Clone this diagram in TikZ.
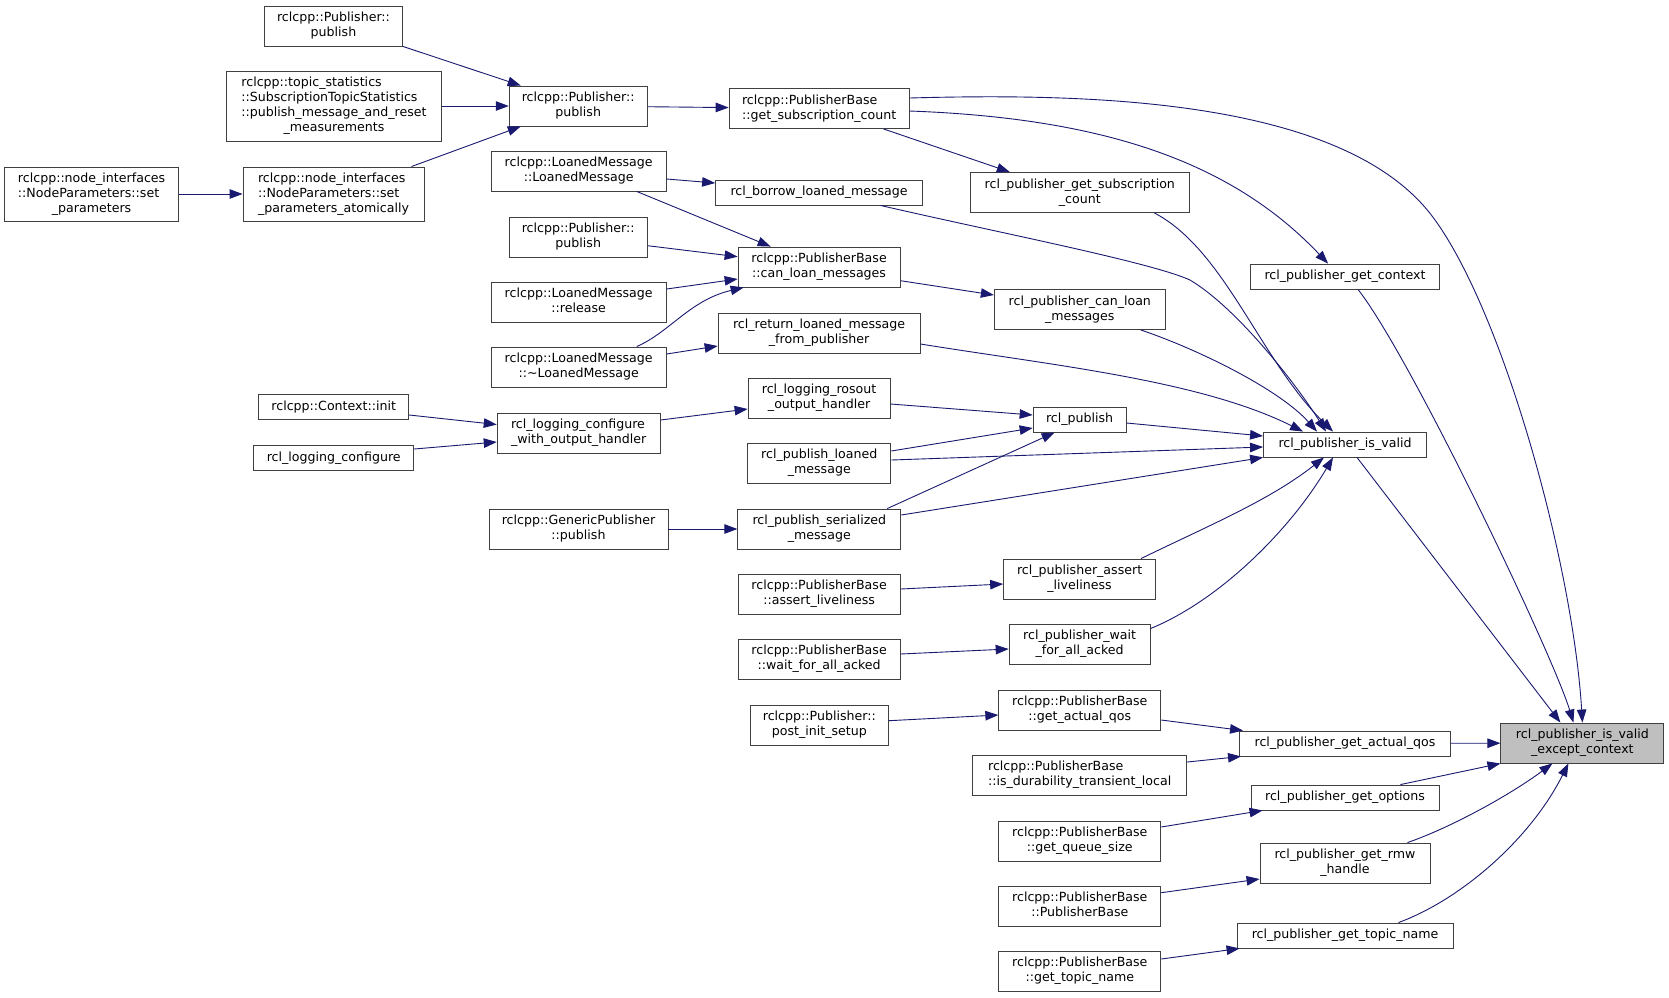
\documentclass[tikz,border=0pt]{standalone}
\usepackage{fontspec}
\setmainfont{DejaVu Sans}
\usetikzlibrary{arrows.meta}
\definecolor{midnight}{RGB}{25, 25, 112}
\definecolor{boxline}{RGB}{64, 64, 64}
\definecolor{focus}{RGB}{191, 191, 191}
\newcommand{\gfont}{\fontsize{12.6}{15}\selectfont}
% left-aligned lines, last line centred
\newcommand{\dl}[2]{\begin{tabular}{@{}l@{}}#1\\\multicolumn{1}{@{}c@{}}{#2}\end{tabular}}

\begin{document}
\begin{tikzpicture}[
    x=1pt, y=-1pt,
    >={Triangle[length=13pt, width=9.5pt]},
    fn/.style={rectangle, draw=boxline, fill=white, line width=0.9pt, inner sep=0pt, minimum width=#1, minimum height=40pt, font=\gfont, align=center},
    one/.style={minimum height=25pt},
    call/.style={->, draw=midnight, line width=0.9pt},
  ]
  \path[use as bounding box, fill=white] (0,0) rectangle (1669,997);

  % Callers, far left
  \node[fn=174pt, minimum height=54pt] (setParams) at (91.6,194) {\dl{rclcpp::node\_interfaces\\::NodeParameters::set}{\_parameters}};

  \node[fn=138pt] (pubA) at (333.5,26) {\dl{rclcpp::Publisher::}{publish}};
  \node[fn=215pt, minimum height=70pt] (topic) at (334,106) {\dl{rclcpp::topic\_statistics\\::SubscriptionTopicStatistics\\::publish\_message\_and\_reset}{\_measurements}};
  \node[fn=181pt, minimum height=54pt] (setAtom) at (333.5,194) {\dl{rclcpp::node\_interfaces\\::NodeParameters::set}{\_parameters\_atomically}};
  \node[fn=150pt, one] (ctxInit) at (333.7,407) {rclcpp::Context::init};
  \node[fn=160pt, one] (logConf) at (333.7,458) {rcl\_logging\_configure};

  \node[fn=138pt] (pubMain) at (578.2,106) {\dl{rclcpp::Publisher::}{publish}};
  \node[fn=175pt] (LMLM) at (578.7,171) {\dl{rclcpp::LoanedMessage}{::LoanedMessage}};
  \node[fn=138pt] (pubB) at (578.2,237) {\dl{rclcpp::Publisher::}{publish}};
  \node[fn=175pt] (release) at (578.7,302) {\dl{rclcpp::LoanedMessage}{::release}};
  \node[fn=175pt] (invLM) at (578.7,367) {\dl{rclcpp::LoanedMessage}{::\textasciitilde LoanedMessage}};
  \node[fn=163pt] (confHandler) at (578.7,433) {\dl{rcl\_logging\_configure}{\_with\_output\_handler}};
  \node[fn=179pt] (genPub) at (578.5,529) {\dl{rclcpp::GenericPublisher}{::publish}};

  \node[fn=180pt] (PBsub) at (819.1,108.5) {\dl{rclcpp::PublisherBase}{::get\_subscription\_count}};
  \node[fn=207pt, one] (borrow) at (819.1,192.5) {rcl\_borrow\_loaned\_message};
  \node[fn=162pt] (canLoanPB) at (819.1,267) {\dl{rclcpp::PublisherBase}{::can\_loan\_messages}};
  \node[fn=202pt] (returnLoaned) at (819.1,333) {\dl{rcl\_return\_loaned\_message}{\_from\_publisher}};
  \node[fn=142pt] (rosout) at (819.1,398) {\dl{rcl\_logging\_rosout}{\_output\_handler}};
  \node[fn=143pt] (pubLoaned) at (819.3,463) {\dl{rcl\_publish\_loaned}{\_message}};
  \node[fn=163pt] (pubSer) at (819.3,529) {\dl{rcl\_publish\_serialized}{\_message}};
  \node[fn=162pt] (PBassert) at (819.1,594) {\dl{rclcpp::PublisherBase}{::assert\_liveliness}};
  \node[fn=162pt] (PBwait) at (819.1,659) {\dl{rclcpp::PublisherBase}{::wait\_for\_all\_acked}};
  \node[fn=138pt] (postInit) at (819.3,725) {\dl{rclcpp::Publisher::}{post\_init\_setup}};

  \node[fn=219pt] (rclSubCount) at (1079.8,192.5) {\dl{rcl\_publisher\_get\_subscription}{\_count}};
  \node[fn=171pt] (rclCanLoan) at (1079.8,309.5) {\dl{rcl\_publisher\_can\_loan}{\_messages}};
  \node[fn=93pt, one] (rclPublish) at (1079.6,419.5) {rcl\_publish};
  \node[fn=152pt] (rclAssert) at (1079.6,579) {\dl{rcl\_publisher\_assert}{\_liveliness}};
  \node[fn=141pt] (rclWait) at (1079.6,644) {\dl{rcl\_publisher\_wait}{\_for\_all\_acked}};
  \node[fn=162pt] (PBqos) at (1079.8,710) {\dl{rclcpp::PublisherBase}{::get\_actual\_qos}};
  \node[fn=214pt] (durab) at (1079.7,775) {\dl{rclcpp::PublisherBase}{::is\_durability\_transient\_local}};
  \node[fn=162pt] (PBqueue) at (1079.8,841) {\dl{rclcpp::PublisherBase}{::get\_queue\_size}};
  \node[fn=162pt] (PBPB) at (1079.8,906) {\dl{rclcpp::PublisherBase}{::PublisherBase}};
  \node[fn=162pt] (PBtopic) at (1079.8,971) {\dl{rclcpp::PublisherBase}{::get\_topic\_name}};

  \node[fn=189pt, one] (getContext) at (1345,276.5) {rcl\_publisher\_get\_context};
  \node[fn=163pt, one] (isValid) at (1345,444.5) {rcl\_publisher\_is\_valid};
  \node[fn=211pt, one] (rclQos) at (1345,743.5) {rcl\_publisher\_get\_actual\_qos};
  \node[fn=188pt, one] (rclOptions) at (1345,797.5) {rcl\_publisher\_get\_options};
  \node[fn=170pt] (rclRmw) at (1345,863) {\dl{rcl\_publisher\_get\_rmw}{\_handle}};
  \node[fn=216pt, one] (rclTopic) at (1345,935.5) {rcl\_publisher\_get\_topic\_name};

  % Function of the graph
  \node[fn=163pt, fill=focus] (exceptCtx) at (1582.4,743) {\dl{rcl\_publisher\_is\_valid}{\_except\_context}};

  \foreach \s/\e in {topic/pubMain, setParams/setAtom, pubMain/PBsub, genPub/pubSer, rclQos/exceptCtx} {
    \draw[call] (\s) -- (\e);
  }

  % Left half
  \draw[call] (pubA.south east) -- ([xshift=12pt]pubMain.north west);
  \draw[call] ([xshift=-13pt]setAtom.north east) -- ([xshift=12pt]pubMain.south west);
  \draw[call] ([yshift=-8pt]LMLM.east) -- ([yshift=9.5pt]borrow.west);
  \draw[call] ([xshift=58pt]LMLM.south) -- ([xshift=33pt]canLoanPB.north west);
  \draw[call] ([yshift=-8.7pt]pubB.east) -- ([yshift=10.3pt]canLoanPB.west);
  \draw[call] ([yshift=13pt]release.east) -- ([yshift=-12pt]canLoanPB.west);
  \draw[call] ([xshift=58pt]invLM.north) .. controls (670,332) and (690,300) .. ([xshift=6pt]canLoanPB.south west);
  \draw[call] ([yshift=13pt]invLM.east) -- ([yshift=-13pt]returnLoaned.west);
  \draw[call] ([yshift=-8pt]ctxInit.east) -- ([yshift=8.5pt]confHandler.west);
  \draw[call] ([yshift=9pt]logConf.east) -- ([yshift=-9pt]confHandler.west);
  \draw[call] ([yshift=13pt]confHandler.east) -- ([yshift=-11pt]rosout.west);
  \draw[call] ([yshift=5pt]PBassert.east) -- ([yshift=-5pt]rclAssert.west);
  \draw[call] ([yshift=5pt]PBwait.east) -- ([yshift=-5pt]rclWait.west);
  \draw[call] ([yshift=4.3pt]postInit.east) -- ([yshift=-5pt]PBqos.west);

  % Into the rcl layer
  \draw[call] ([xshift=-26pt]PBsub.south east) -- ([xshift=40pt]rclSubCount.north west);
  \draw[call] ([yshift=-2.5pt]PBsub.east) .. controls (1100,118) and (1230,160) .. ([xshift=78pt]getContext.north west);
  \draw[call] ([yshift=-13.7pt]canLoanPB.east) -- ([yshift=14.5pt]rclCanLoan.west);
  \draw[call] ([yshift=-6pt]rosout.east) -- ([yshift=4.5pt]rclPublish.west);
  \draw[call] ([yshift=12pt]pubLoaned.east) -- ([yshift=-8.5pt]rclPublish.west);
  \draw[call] ([xshift=-14pt]pubSer.north east) -- ([xshift=22pt]rclPublish.south west);

  % Into rcl_publisher_is_valid
  \draw[call] ([xshift=74.6pt]rclSubCount.south) .. controls (1225,250) and (1260,360) .. ([xshift=-12pt]isValid.north);
  \draw[call] ([xshift=-42.5pt]borrow.south east) .. controls (1000,233) and (1150,262) .. (1190,280) .. controls (1240,310) and (1300,390) .. ([xshift=-19pt]isValid.north);
  \draw[call] ([xshift=61pt]rclCanLoan.south) .. controls (1200,350) and (1280,390) .. ([xshift=-28pt]isValid.north);
  \draw[call] ([yshift=-11pt]returnLoaned.east) .. controls (1050,365) and (1200,380) .. ([xshift=40pt]isValid.north west);
  \draw[call] ([yshift=-3.5pt]rclPublish.east) -- ([yshift=8.5pt]isValid.west);
  \draw[call] ([yshift=3pt]pubLoaned.east) -- ([yshift=-2.5pt]isValid.west);
  \draw[call] ([yshift=14pt]pubSer.east) -- (isValid.south west);
  \draw[call] ([xshift=61.4pt]rclAssert.north) .. controls (1210,525) and (1270,500) .. ([xshift=-21pt]isValid.south);
  \draw[call] ([yshift=-5pt]rclWait.north east) .. controls (1220,600) and (1290,530) .. ([xshift=-12pt]isValid.south);

  % Lower getters
  \draw[call] ([yshift=-10pt]PBqos.east) -- ([xshift=4pt]rclQos.north west);
  \draw[call] ([yshift=13pt]durab.east) -- ([xshift=2pt]rclQos.south west);
  \draw[call] ([yshift=14pt]PBqueue.east) -- ([xshift=12pt]rclOptions.south west);
  \draw[call] ([yshift=13.3pt]PBPB.east) -- ([yshift=-16pt]rclRmw.west);
  \draw[call] ([yshift=12pt]PBtopic.east) -- ([xshift=3pt]rclTopic.south west);

  % Into rcl_publisher_is_valid_except_context
  \draw[call] ([yshift=10.5pt]PBsub.east) .. controls (1089,93) and (1348,98) .. (1435,220) .. controls (1505,317) and (1573,567) .. (exceptCtx.north);
  \draw[call] ([xshift=13pt]getContext.south) .. controls (1411,357) and (1553,655) .. ([xshift=-9pt]exceptCtx.north);
  \draw[call] ([xshift=12pt]isValid.south) -- ([xshift=-22pt]exceptCtx.north);
  \draw[call] ([xshift=-39pt]rclOptions.north east) -- (exceptCtx.south west);
  \draw[call] ([xshift=-23pt]rclRmw.north east) .. controls (1450,828) and (1510,795) .. ([xshift=-30pt]exceptCtx.south);
  \draw[call] ([xshift=-55pt]rclTopic.north east) .. controls (1460,900) and (1530,840) .. ([xshift=-14pt]exceptCtx.south);

\end{tikzpicture}
\end{document}
